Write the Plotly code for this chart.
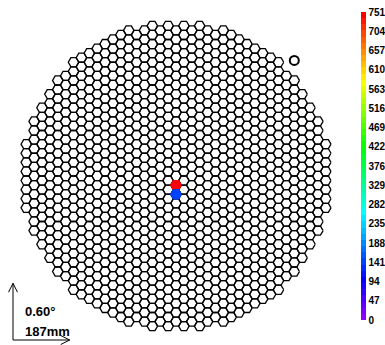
import math
import colorsys
import plotly.graph_objects as go

# ---- camera geometry (flat-top hexagonal pixels, circular field of view) ----
PIXEL_PITCH_MM = 30.0       # centre-to-centre pixel distance
MM_PER_DEG = 311.7          # plate scale
CAMERA_RADIUS = 16.9        # field of view radius, in pixel pitches

# ---- event data: lit pixels as lattice indices (column, row) and signal ----
lit_cols = [0, 0]
lit_rows = [-1, -2]
lit_values = [751, 150]

# ---- extra marker (camera coordinates, pixel pitches) ----
marker_x = [13.0]
marker_y = [12.7]

# ---- colour axis ----
z_min = 0
z_max = 751
n_tick_steps = 16
n_colors = 50

# ---- scale bar ----
scale_mm = 187

SQ3 = math.sqrt(3.0)
HEX_R = 1.0 / SQ3           # circumradius of a hexagon with unit flat-to-flat


def centre(col, row):
    return col * SQ3 / 2.0, row + col / 2.0


def hex_path(cx, cy):
    xs, ys = [], []
    for k in range(7):
        a = math.radians(60 * k)
        xs.append(cx + HEX_R * math.cos(a))
        ys.append(cy + HEX_R * math.sin(a))
    return xs, ys


# rainbow palette: hue from violet (280) down to red
palette = []
for i in range(n_colors):
    hue = 280.0 - (i + 1) * (280.0 / n_colors)
    r, g, b = colorsys.hls_to_rgb(max(hue, 0) / 360.0, 0.5, 1.0)
    palette.append(f"rgb({int(r*255)},{int(g*255)},{int(b*255)})")
colorscale = []
for i, c in enumerate(palette):
    colorscale.append([i / n_colors, c])
    colorscale.append([(i + 1) / n_colors, c])


def value_color(v):
    k = int((v - z_min) / (z_max - z_min) * n_colors)
    return palette[min(max(k, 0), n_colors - 1)]


# all pixel outlines
ox, oy = [], []
for col in range(-25, 26):
    for row in range(-40, 41):
        cx, cy = centre(col, row)
        if math.hypot(cx, cy) <= CAMERA_RADIUS:
            xs, ys = hex_path(cx, cy)
            ox += xs + [None]
            oy += ys + [None]

fig = go.Figure()
fig.add_trace(go.Scatter(x=ox, y=oy, mode="lines",
                         line=dict(color="black", width=1.3),
                         hoverinfo="skip", showlegend=False))

# lit pixels
lx, ly = [], []
for c, r, v in zip(lit_cols, lit_rows, lit_values):
    cx, cy = centre(c, r)
    lx.append(cx)
    ly.append(cy)
    xs, ys = hex_path(cx, cy)
    fig.add_trace(go.Scatter(x=xs, y=ys, mode="lines", fill="toself",
                             fillcolor=value_color(v),
                             line=dict(color=value_color(v), width=1.3),
                             hoverinfo="skip", showlegend=False))

tickvals = [z_min + (z_max - z_min) * k / n_tick_steps for k in range(n_tick_steps + 1)]
ticktext = [str(int(round(t))) for t in tickvals]

W, H = 385, 345
fig.add_trace(go.Scatter(
    x=lx, y=ly, mode="markers", hoverinfo="skip", showlegend=False,
    marker=dict(size=1, opacity=0, color=lit_values, cmin=z_min, cmax=z_max,
                colorscale=colorscale, showscale=True,
                colorbar=dict(thickness=5, thicknessmode="pixels",
                              len=308, lenmode="pixels",
                              x=361 / W, xanchor="left",
                              y=1 - 12 / H, yanchor="top",
                              xpad=0, ypad=0, outlinewidth=0,
                              tickvals=tickvals, ticktext=ticktext, ticks="",
                              tickfont=dict(family="Liberation Sans", size=10,
                                            color="black", weight="bold")))))

fig.add_trace(go.Scatter(x=marker_x, y=marker_y, mode="markers",
                         marker=dict(symbol="circle-open", size=9,
                                     color="black", line=dict(width=2)),
                         hoverinfo="skip", showlegend=False))

# scale bar in the lower-left corner
S = 9.1                      # screen pixels per pixel pitch
X0, Y0 = 176.0, 176.0        # camera centre on screen
bar_len = scale_mm / PIXEL_PITCH_MM
bx0 = (13 - X0) / S
by0 = -(340 - Y0) / S
hb, hw = 9 / S, 4.5 / S
ax = [bx0, bx0, None, bx0 - hw, bx0, bx0 + hw, None,
      bx0, bx0 + bar_len, None, bx0 + bar_len - hb, bx0 + bar_len, bx0 + bar_len - hb]
ay = [by0, by0 + bar_len, None, by0 + bar_len - hb, by0 + bar_len, by0 + bar_len - hb, None,
      by0, by0, None, by0 + hw, by0, by0 - hw]
fig.add_trace(go.Scatter(x=ax, y=ay, mode="lines", line=dict(color="black", width=1),
                         hoverinfo="skip", showlegend=False))

lab_font = dict(family="Liberation Sans", size=13, color="black", weight="bold")
fig.add_annotation(x=(23 - X0) / S, y=-(311 - Y0) / S, xref="x", yref="y",
                   text=f"{scale_mm / MM_PER_DEG:.2f}°", showarrow=False,
                   xanchor="left", yanchor="middle", font=lab_font)
fig.add_annotation(x=(23 - X0) / S, y=-(331 - Y0) / S, xref="x", yref="y",
                   text=f"{scale_mm}mm", showarrow=False,
                   xanchor="left", yanchor="middle", font=lab_font)

fig.update_xaxes(range=[-X0 / S, (W - X0) / S], visible=False)
fig.update_yaxes(range=[-(H - Y0) / S, Y0 / S], visible=False)
fig.update_layout(width=W, height=H, plot_bgcolor="white", paper_bgcolor="white",
                  margin=dict(l=0, r=0, t=0, b=0, pad=0, autoexpand=False))

fig.write_html("out.html")
